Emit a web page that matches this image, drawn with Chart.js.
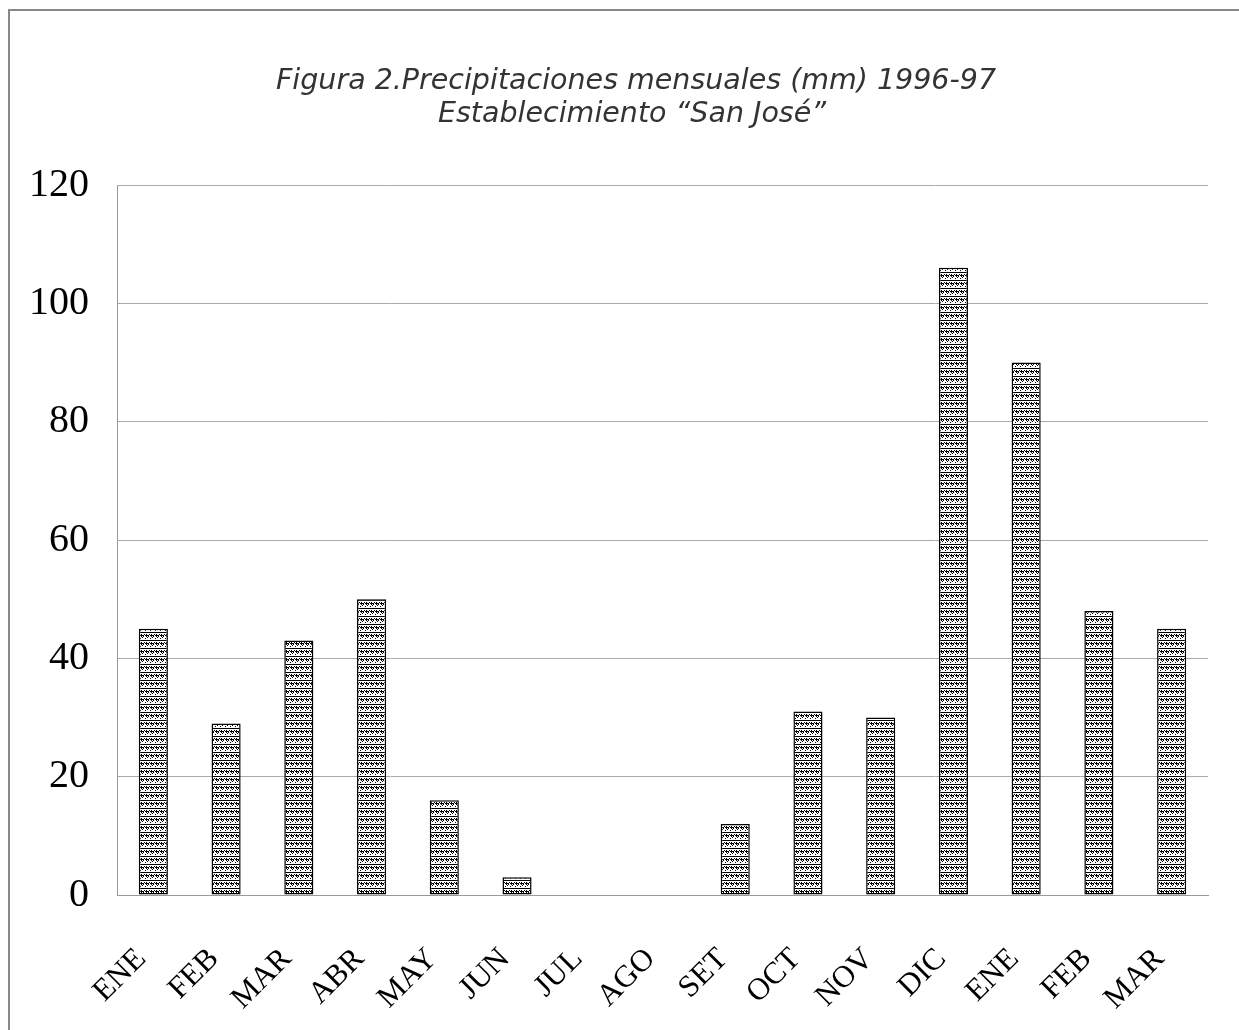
<!DOCTYPE html>
<html>
<head>
<meta charset="utf-8">
<script src="https://cdn.jsdelivr.net/npm/chart.js@4/dist/chart.umd.min.js"></script>
<style>
  html, body { margin: 0; padding: 0; background: #fff; }
  #frame {
    position: absolute; left: 8px; top: 9px; width: 1231px; height: 1021px;
    border-left: 2px solid #888; border-top: 2px solid #888;
  }
  #wrap { position: absolute; left: 0; top: 0; width: 1239px; height: 1030px; }
</style>
</head>
<body>
<div id="frame"></div>
<div id="wrap"><canvas id="c1"></canvas></div>
<script>
// months, Jan 1996 .. Mar 1997
const months = ["ENE", "FEB", "MAR", "ABR", "MAY", "JUN", "JUL", "AGO", "SET", "OCT", "NOV", "DIC", "ENE", "FEB", "MAR"];
const rainMM = [45, 29, 43, 50, 16, 3, 0, 0, 12, 31, 30, 106, 90, 48, 45];
const titleLines = ["Figura 2.Precipitaciones mensuales (mm) 1996-97", "Establecimiento \u201CSan Jos\u00E9\u201D"];

// hatch fill like the printed bars
function makePattern() {
  var p = document.createElement("canvas");
  p.width = 10;
  p.height = 8;
  var g = p.getContext("2d");
  g.fillStyle = "#fff";
  g.fillRect(0, 0, 10, 8);
  g.fillStyle = "#000";
  g.fillRect(0, 0, 10, 1);
  var dots = [[1, 2], [4, 2], [6, 2], [9, 2],
              [0, 3], [1, 3], [2, 3], [3, 3], [5, 3], [6, 3], [7, 3], [8, 3],
              [1, 4], [3, 4], [6, 4], [8, 4], [2, 5], [7, 5], [0, 6], [5, 6]];
  dots.forEach(function (d) { g.fillRect(d[0], d[1], 1, 1); });
  return g.createPattern(p, "repeat");
}

var serif = "'Liberation Serif', 'Times New Roman', Times, serif";

var titlePlugin = {
  id: "twoLineTitle",
  afterDraw: function (chart) {
    var c = chart.ctx;
    c.save();
    c.fillStyle = "#333";
    c.font = "oblique 28.5px 'DejaVu Sans', sans-serif";
    c.textAlign = "center";
    c.textBaseline = "alphabetic";
    c.fillText(titleLines[0], 636, 89);
    c.fillText(titleLines[1], 632, 122);
    c.restore();
  }
};

function draw() {
  var ctx = document.getElementById("c1").getContext("2d");
  new Chart(ctx, {
    type: "bar",
    data: {
      labels: months,
      datasets: [{
        data: rainMM,
        backgroundColor: makePattern(),
        borderColor: "#000",
        borderWidth: 1.5,
        borderSkipped: false,
        categoryPercentage: 0.8,
        barPercentage: 0.5
      }]
    },
    options: {
      responsive: true,
      maintainAspectRatio: false,
      animation: false,
      layout: { padding: { top: 185, right: 31, left: 0, bottom: 0 } },
      plugins: {
        legend: { display: false },
        tooltip: { enabled: false }
      },
      scales: {
        x: {
          afterFit: function (s) {
            s.height = 135;
            s.paddingLeft = 0;
            s.paddingRight = 0;
          },
          grid: { display: false, drawTicks: false },
          border: { display: true, color: "#999", width: 1 },
          ticks: {
            color: "#000",
            font: { family: serif, size: 31 },
            minRotation: 45,
            maxRotation: 45,
            padding: 46,
            labelOffset: -12,
            autoSkip: false
          }
        },
        y: {
          min: 0,
          max: 120,
          afterFit: function (s) { s.width = 117; },
          grid: { color: "#aaa", lineWidth: 1, drawTicks: false },
          border: { display: true, color: "#999", width: 1 },
          ticks: {
            stepSize: 20,
            color: "#000",
            font: { family: serif, size: 40 },
            padding: 28
          }
        }
      }
    },
    plugins: [titlePlugin]
  });
}

Promise.all([
  document.fonts.load("32px 'Liberation Serif'"),
  document.fonts.load("oblique 28px 'DejaVu Sans'")
]).then(draw, draw);
</script>
</body>
</html>
